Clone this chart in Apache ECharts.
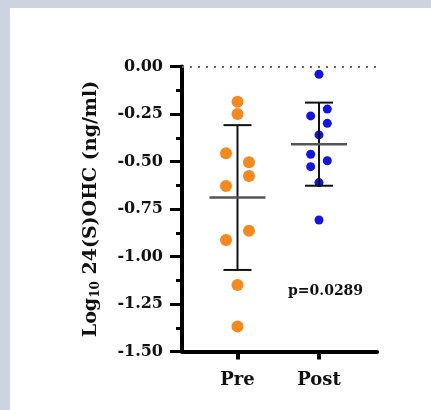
<!DOCTYPE html>
<html>
<head>
<meta charset="utf-8">
<script src="https://cdn.jsdelivr.net/npm/echarts@6/dist/echarts.min.js"></script>
<style>
  html, body { margin: 0; padding: 0; }
  body { width: 431px; height: 410px; background: #cdd4df; position: relative; overflow: hidden; }
  #panel { position: absolute; left: 10px; top: 8px; width: 421px; height: 402px; background: #fff; }
  #chart { position: absolute; left: 0; top: 0; width: 431px; height: 410px; }
</style>
</head>
<body>
<div id="panel"></div>
<div id="chart"></div>
<script>
// données
var groupes = ['Pre', 'Post'];
var preValeurs = [-0.185, -0.25, -0.457, -0.504, -0.576, -0.629, -0.864, -0.913, -1.15, -1.369];
var preColonnes = [0, 0, -1, 1, 1, -1, 1, -1, 0, 0];   // colonne du nuage (beeswarm)
var postValeurs = [-0.041, -0.224, -0.26, -0.299, -0.36, -0.462, -0.496, -0.527, -0.611, -0.808];
var postColonnes = [0, 1, -1, 1, 0, -1, 1, -1, 0, 0];
var yTicks = [0, -0.25, -0.5, -0.75, -1, -1.25, -1.5];
var pTexte = 'p=0.0289';

var police = 'DejaVu Serif';

// moyenne et écart-type de chaque groupe
function stats(v) {
  var m = v.reduce(function (a, b) { return a + b; }, 0) / v.length;
  var s = Math.sqrt(v.reduce(function (a, b) { return a + (b - m) * (b - m); }, 0) / (v.length - 1));
  return [m, s];
}

function points(vals, cols, x, pas) {
  return vals.map(function (v, i) { return [x + cols[i] * pas, v]; });
}

var preStats = stats(preValeurs);
var postStats = stats(postValeurs);
var barres = [[1].concat(preStats), [2].concat(postStats)];

var chart = echarts.init(document.getElementById('chart'));
chart.setOption({
  animation: false,
  backgroundColor: 'transparent',
  grid: { left: 182, right: 54, top: 66.5, bottom: 58.5 },
  xAxis: {
    type: 'value',
    min: 0.319,
    max: 2.712,
    splitLine: { show: false },
    axisLine: { onZero: false, lineStyle: { color: '#000', width: 4 } },
    axisTick: { customValues: [1, 2], length: 8, lineStyle: { color: '#000', width: 4 } },
    axisLabel: {
      customValues: [1, 2],
      margin: 20,
      color: '#111',
      fontFamily: police,
      fontWeight: 'bold',
      fontSize: 18,
      formatter: function (v) { return groupes[Math.round(v) - 1]; }
    }
  },
  yAxis: {
    type: 'value',
    min: -1.5,
    max: 0,
    interval: 0.25,
    splitLine: { show: false },
    axisLine: { show: true, lineStyle: { color: '#000', width: 4 } },
    axisTick: { show: true, length: 12, lineStyle: { color: '#000', width: 3 } },
    minorTick: { show: true, splitNumber: 2, length: 6, lineStyle: { color: '#000', width: 3 } },
    axisLabel: {
      margin: 19,
      color: '#111',
      fontFamily: police,
      fontWeight: 'bold',
      fontSize: 16,
      formatter: function (v) { return v.toFixed(2); }
    },
    name: '{a|Log}{s|10}{a| 24(S)OHC (ng/ml)}',
    nameLocation: 'middle',
    nameRotate: 90,
    nameGap: 80,
    nameTextStyle: {
      rich: {
        a: { fontFamily: police, fontWeight: 'bold', fontSize: 19, color: '#111' },
        s: { fontFamily: police, fontWeight: 'bold', fontSize: 12, color: '#111', padding: [10, 0, 0, 0] }
      }
    }
  },
  graphic: [{
    type: 'text',
    left: 288,
    top: 284,
    style: { text: pTexte, fontFamily: police, fontWeight: 'bold', fontSize: 14, fill: '#111' }
  }],
  series: [
    {
      name: 'Pre',
      type: 'scatter',
      symbolSize: 12,
      itemStyle: { color: '#f48a1f', opacity: 1 },
      data: points(preValeurs, preColonnes, 1, 0.141),
      z: 3,
      markLine: {
        silent: true,
        symbol: 'none',
        label: { show: false },
        lineStyle: { color: '#666', type: [2, 6], width: 2 },
        data: [{ yAxis: 0 }]
      }
    },
    {
      name: 'Post',
      type: 'scatter',
      symbolSize: 9,
      itemStyle: { color: '#1414e0', opacity: 1 },
      data: points(postValeurs, postColonnes, 2, 0.102),
      z: 3
    },
    {
      // moyenne ± écart-type
      type: 'custom',
      z: 4,
      data: barres,
      renderItem: function (params, api) {
        var x = api.value(0), m = api.value(1), s = api.value(2);
        var haut = api.coord([x, m + s]);
        var bas = api.coord([x, m - s]);
        var mil = api.coord([x, m]);
        var demiCap = 14, demiMoy = 28;
        var noir = { stroke: '#111', lineWidth: 2 };
        return {
          type: 'group',
          children: [
            { type: 'line', shape: { x1: haut[0], y1: haut[1], x2: bas[0], y2: bas[1] }, style: noir },
            { type: 'line', shape: { x1: haut[0] - demiCap, y1: haut[1], x2: haut[0] + demiCap, y2: haut[1] }, style: noir },
            { type: 'line', shape: { x1: bas[0] - demiCap, y1: bas[1], x2: bas[0] + demiCap, y2: bas[1] }, style: noir },
            { type: 'line', shape: { x1: mil[0] - demiMoy, y1: mil[1], x2: mil[0] + demiMoy, y2: mil[1] }, style: { stroke: '#555', lineWidth: 2.5 } }
          ]
        };
      }
    }
  ]
});
</script>
</body>
</html>
